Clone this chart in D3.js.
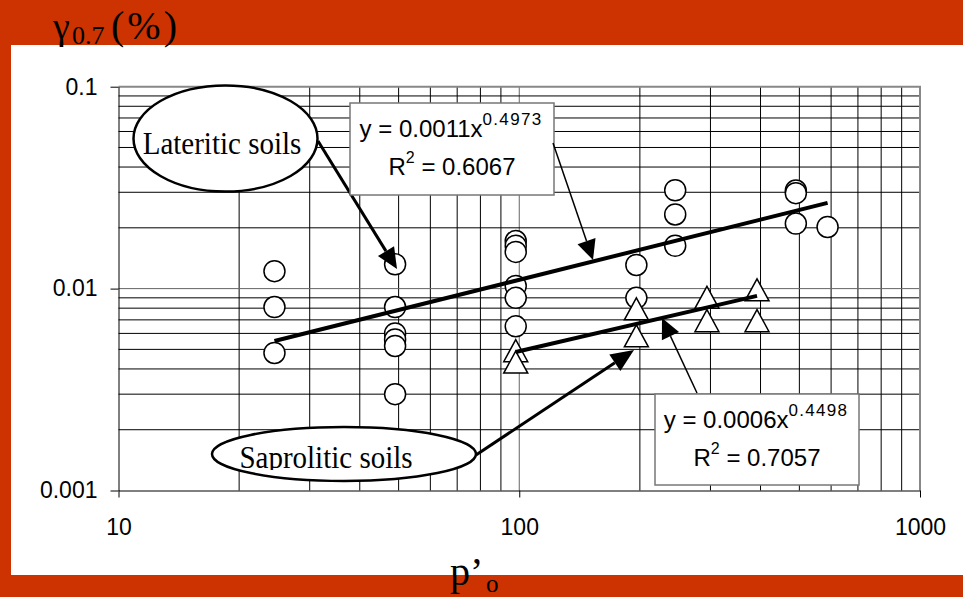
<!DOCTYPE html>
<html>
<head>
<meta charset="utf-8">
<script src="https://cdn.jsdelivr.net/npm/d3@7"></script>
<style>
  html, body { margin: 0; padding: 0; background: #cc3300; }
  svg { display: block; }
</style>
</head>
<body>
<div id="chart"></div>
<script>
// Lateritic soils (circles)
const latX = [24.5, 24.5, 24.5, 49, 49, 49, 49, 49, 49, 98, 98, 98, 98, 98, 98,
              196, 196, 245, 245, 245, 490, 490, 490, 588];
const latY = [0.0122, 0.0081, 0.0048, 0.0132, 0.0081, 0.0060, 0.0056, 0.0052, 0.0030,
              0.0172, 0.0163, 0.0152, 0.0103, 0.0090, 0.0065,
              0.0131, 0.0090, 0.0307, 0.0233, 0.0163, 0.0306, 0.0297, 0.0210, 0.0202];

// Saprolitic soils (triangles)
const sapX = [98, 98, 196, 196, 294, 294, 392, 392];
const sapY = [0.0049, 0.0043, 0.0079, 0.0058, 0.0090, 0.0069, 0.0098, 0.0069];

// power trend lines (straight on log-log), end points
const latTrend = [[24.5, 0.0055], [588, 0.0266]];
const sapTrend = [[98, 0.00485], [392, 0.0092]];

const xTicks = [10, 100, 1000];
const yTicks = [0.001, 0.01, 0.1];

const width = 963, height = 597;

const svg = d3.select("#chart").append("svg")
    .attr("width", width)
    .attr("height", height);

// orange slide + white panel
svg.append("rect").attr("width", width).attr("height", height).attr("fill", "#cc3300");
svg.append("rect").attr("x", 11).attr("y", 45).attr("width", 952).attr("height", 530).attr("fill", "#fff");

const x = d3.scaleLog().domain([10, 1000]).range([118.5, 920]);
const y = d3.scaleLog().domain([0.001, 0.1]).range([490.5, 86.7]);

// grid
const grid = svg.append("g");
grid.selectAll(".vx")
    .data(x.ticks().filter(d => d > 10 && d < 1000))
    .enter().append("line")
    .attr("x1", d => x(d)).attr("x2", d => x(d))
    .attr("y1", y(0.1)).attr("y2", y(0.001))
    .attr("stroke", d => xTicks.includes(d) ? "#666" : "#000")
    .attr("stroke-width", 1);
grid.selectAll(".hy")
    .data(y.ticks().filter(d => d > 0.001 && d < 0.1))
    .enter().append("line")
    .attr("x1", x(10)).attr("x2", x(1000))
    .attr("y1", d => y(d)).attr("y2", d => y(d))
    .attr("stroke", d => yTicks.includes(d) ? "#666" : "#000")
    .attr("stroke-width", 1);

// top / right border
svg.append("path")
    .attr("d", `M${x(10)},${y(0.1)}H${x(1000)}V${y(0.001)}`)
    .attr("fill", "none")
    .attr("stroke", "#888")
    .attr("stroke-width", 2);

// axes
const xAxis = svg.append("g")
    .attr("transform", `translate(0,${y(0.001)})`)
    .call(d3.axisBottom(x).tickValues(xTicks).tickFormat(d3.format("")).tickSize(7).tickSizeOuter(0).tickPadding(21));
const yAxis = svg.append("g")
    .attr("transform", `translate(${x(10)},0)`)
    .call(d3.axisLeft(y).tickValues(yTicks).tickFormat(d3.format("")).tickSize(8).tickSizeOuter(0).tickPadding(13));
[xAxis, yAxis].forEach(a => {
    a.selectAll("text")
        .attr("font-family", "Liberation Sans, Arial, sans-serif")
        .attr("font-size", 23)
        .attr("fill", "#000");
    a.selectAll("line").attr("stroke", "#000");
    a.select(".domain").attr("stroke", "#000");
});

// markers
svg.append("g").selectAll("circle")
    .data(d3.zip(latX, latY))
    .enter().append("circle")
    .attr("cx", d => x(d[0]))
    .attr("cy", d => y(d[1]))
    .attr("r", 10.5)
    .attr("fill", "#fff")
    .attr("stroke", "#000")
    .attr("stroke-width", 1.5);

svg.append("g").selectAll("path")
    .data(d3.zip(sapX, sapY))
    .enter().append("path")
    .attr("d", "M0,-11.5L12,10.5L-12,10.5Z")
    .attr("transform", d => `translate(${x(d[0])},${y(d[1])})`)
    .attr("fill", "#fff")
    .attr("stroke", "#000")
    .attr("stroke-width", 1.5);

// trend lines
const line = d3.line().x(d => x(d[0])).y(d => y(d[1]));
[latTrend, sapTrend].forEach(t => {
    svg.append("path")
        .attr("d", line(t))
        .attr("fill", "none")
        .attr("stroke", "#000")
        .attr("stroke-width", 4);
});

// arrows
function arrow(x1, y1, x2, y2, w, headLen, headW) {
    const a = Math.atan2(y2 - y1, x2 - x1);
    const bx = x2 - headLen * Math.cos(a), by = y2 - headLen * Math.sin(a);
    const px = -Math.sin(a) * headW / 2, py = Math.cos(a) * headW / 2;
    svg.append("line")
        .attr("x1", x1).attr("y1", y1).attr("x2", bx).attr("y2", by)
        .attr("stroke", "#000").attr("stroke-width", w);
    svg.append("path")
        .attr("d", `M${x2},${y2}L${bx + px},${by + py}L${bx - px},${by - py}Z`)
        .attr("fill", "#000");
}

// equation boxes
function eqBox(bx, by, bw, bh, coef, expo, r2) {
    svg.append("rect")
        .attr("x", bx).attr("y", by).attr("width", bw).attr("height", bh)
        .attr("fill", "#fff").attr("stroke", "#777").attr("stroke-width", 1.5);
    const t1 = svg.append("text")
        .attr("x", bx + bw / 2 - 1).attr("y", by + 34)
        .attr("text-anchor", "middle")
        .attr("font-family", "Liberation Sans, Arial, sans-serif")
        .attr("font-size", 24);
    t1.append("tspan").text(`y = ${coef}x`);
    t1.append("tspan").attr("dy", -12).attr("font-size", 17).attr("letter-spacing", 1.3).text(expo);
    const t2 = svg.append("text")
        .attr("x", bx + bw / 2).attr("y", by + 72)
        .attr("text-anchor", "middle")
        .attr("font-family", "Liberation Sans, Arial, sans-serif")
        .attr("font-size", 24);
    t2.append("tspan").text("R");
    t2.append("tspan").attr("dy", -12).attr("font-size", 16).text("2");
    t2.append("tspan").attr("dy", 12).text(` = ${r2}`);
}

// Lateritic label
arrow(318, 141, 397, 269, 3, 21, 19);
svg.append("ellipse")
    .attr("cx", 225.5).attr("cy", 138.5).attr("rx", 92).attr("ry", 53)
    .attr("fill", "#fff").attr("stroke", "#000").attr("stroke-width", 2.5);
svg.append("text")
    .attr("transform", "translate(222,154) scale(1,1.08)")
    .attr("text-anchor", "middle")
    .attr("font-family", "Liberation Serif, Times New Roman, serif")
    .attr("font-size", 29)
    .text("Lateritic soils");

eqBox(350, 103, 204, 92, "0.0011", "0.4973", "0.6067");
arrow(553, 143, 593, 260, 1.5, 20, 19);

// Saprolitic label
arrow(476, 455, 634, 350, 3, 23, 20);
svg.append("ellipse")
    .attr("cx", 344).attr("cy", 454).attr("rx", 132).attr("ry", 27)
    .attr("fill", "#fff").attr("stroke", "#000").attr("stroke-width", 2.5);
svg.append("clipPath").attr("id", "sapClip")
    .append("rect").attr("x", 200).attr("y", 430).attr("width", 300).attr("height", 40);
svg.append("g")
    .attr("clip-path", "url(#sapClip)")
    .append("text")
    .attr("transform", "translate(326,468) scale(1,1.08)")
    .attr("text-anchor", "middle")
    .attr("font-family", "Liberation Serif, Times New Roman, serif")
    .attr("font-size", 29)
    .text("Saprolitic soils");

eqBox(655, 394, 204, 91, "0.0006", "0.4498", "0.7057");
arrow(697, 393, 662, 318, 1.5, 20, 19);

// axis titles
const yt = svg.append("text")
    .attr("font-family", "Liberation Serif, Times New Roman, serif")
    .attr("fill", "#000");
yt.append("tspan").attr("x", 53).attr("y", 39).attr("font-size", 38).text("γ");
yt.append("tspan").attr("x", 72).attr("y", 44).attr("font-size", 26).text("0.7");
yt.append("tspan").attr("x", 111).attr("y", 39).attr("font-size", 40).attr("letter-spacing", 3).text("(%)");

const xt = svg.append("text")
    .attr("font-family", "Liberation Serif, Times New Roman, serif")
    .attr("fill", "#000");
xt.append("tspan").attr("x", 450).attr("y", 585).attr("font-size", 40).text("p’");
xt.append("tspan").attr("x", 486).attr("y", 592).attr("font-size", 25).text("o");
</script>
</body>
</html>
